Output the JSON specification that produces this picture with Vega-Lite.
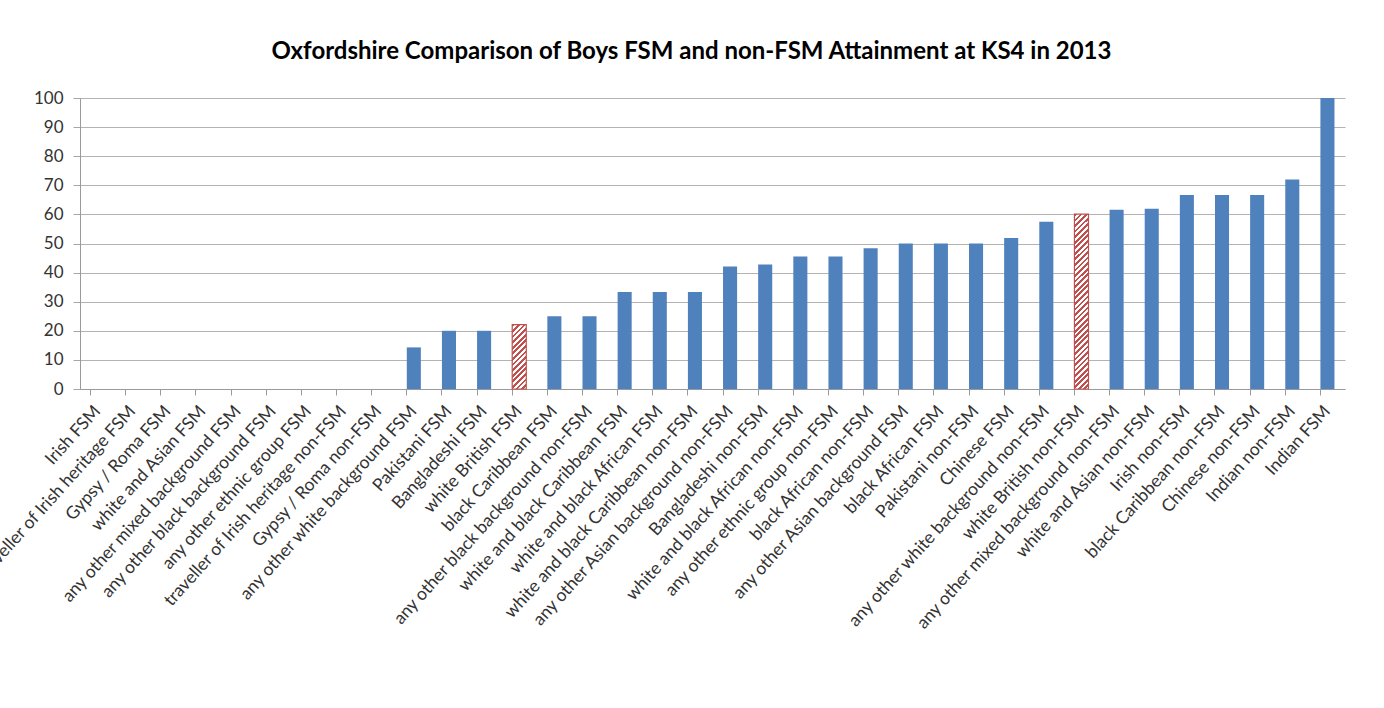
{
  "$schema": "https://vega.github.io/schema/vega-lite/v6.json",
  "autosize": {"type": "none"},
  "width": 1265,
  "height": 291,
  "padding": {"left": 80, "top": 98, "right": 39, "bottom": 319},
  "background": "#ffffff",
  "title": {
    "text": "Oxfordshire Comparison of Boys FSM and non-FSM Attainment at KS4 in 2013",
    "font": "Lato",
    "fontSize": 24,
    "fontWeight": "bold",
    "color": "#000000",
    "anchor": "middle",
    "dx": -21,
    "offset": 25
  },
  "config": {
    "view": {"stroke": null},
    "axis": {"labelFont": "Lato", "labelColor": "#333333"}
  },
  "data": {
    "values": [
      {"category": "Irish FSM", "value": 0},
      {"category": "traveller of Irish heritage FSM", "value": 0},
      {"category": "Gypsy / Roma FSM", "value": 0},
      {"category": "white and Asian FSM", "value": 0},
      {"category": "any other mixed background FSM", "value": 0},
      {"category": "any other black background FSM", "value": 0},
      {"category": "any other ethnic group FSM", "value": 0},
      {"category": "traveller of Irish heritage non-FSM", "value": 0},
      {"category": "Gypsy / Roma non-FSM", "value": 0},
      {"category": "any other white background FSM", "value": 14.3},
      {"category": "Pakistani FSM", "value": 20},
      {"category": "Bangladeshi FSM", "value": 20},
      {"category": "white British FSM", "value": 22.1},
      {"category": "black Caribbean FSM", "value": 25},
      {"category": "any other black background non-FSM", "value": 25},
      {"category": "white and black Caribbean FSM", "value": 33.3},
      {"category": "white and black African FSM", "value": 33.3},
      {"category": "white and black Caribbean non-FSM", "value": 33.3},
      {"category": "any other Asian background non-FSM", "value": 42.1},
      {"category": "Bangladeshi non-FSM", "value": 42.8},
      {"category": "white and black African non-FSM", "value": 45.5},
      {"category": "any other ethnic group non-FSM", "value": 45.5},
      {"category": "black African non-FSM", "value": 48.4},
      {"category": "any other Asian background FSM", "value": 50},
      {"category": "black African FSM", "value": 50},
      {"category": "Pakistani non-FSM", "value": 50},
      {"category": "Chinese FSM", "value": 51.9},
      {"category": "any other white background non-FSM", "value": 57.5},
      {"category": "white British non-FSM", "value": 60.1},
      {"category": "any other mixed background non-FSM", "value": 61.6},
      {"category": "white and Asian non-FSM", "value": 61.9},
      {"category": "Irish non-FSM", "value": 66.7},
      {"category": "black Caribbean non-FSM", "value": 66.7},
      {"category": "Chinese non-FSM", "value": 66.7},
      {"category": "Indian non-FSM", "value": 72},
      {"category": "Indian FSM", "value": 100}
    ]
  },
  "mark": {"type": "bar", "strokeWidth": 1.2},
  "encoding": {
    "x": {
      "field": "category",
      "type": "nominal",
      "sort": null,
      "scale": {"paddingInner": 0.6, "paddingOuter": 0.3},
      "axis": {
        "title": null,
        "labelAngle": -48,
        "labelAlign": "right",
        "labelBaseline": "middle",
        "labelFontSize": 17.5,
        "labelPadding": 13,
        "labelLimit": 0,
        "bandPosition": 0,
        "tickSize": 6,
        "tickColor": "#9a9a9a",
        "domainColor": "#9a9a9a",
        "grid": false
      }
    },
    "y": {
      "field": "value",
      "type": "quantitative",
      "scale": {"domain": [0, 100], "nice": false},
      "axis": {
        "title": null,
        "values": [0, 10, 20, 30, 40, 50, 60, 70, 80, 90, 100],
        "labelFontSize": 17,
        "tickSize": 7,
        "labelPadding": 10,
        "tickColor": "#a6a6a6",
        "domainColor": "#9a9a9a",
        "gridColor": "#b3b3b3",
        "gridOpacity": 1
      }
    },
    "fill": {
      "condition": [
        {
          "test": "datum.category === 'white British FSM'",
          "value": {
            "gradient": "linear", "x1": 0, "y1": 0, "x2": 0.2531, "y2": 1.1626,
            "stops": [
              {"offset": 0, "color": "#C0504D"}, {"offset": 0.0357, "color": "#C0504D"}, {"offset": 0.0357, "color": "#FFFFFF"}, {"offset": 0.0714, "color": "#FFFFFF"},
              {"offset": 0.0714, "color": "#C0504D"}, {"offset": 0.1071, "color": "#C0504D"}, {"offset": 0.1071, "color": "#FFFFFF"}, {"offset": 0.1429, "color": "#FFFFFF"},
              {"offset": 0.1429, "color": "#C0504D"}, {"offset": 0.1786, "color": "#C0504D"}, {"offset": 0.1786, "color": "#FFFFFF"}, {"offset": 0.2143, "color": "#FFFFFF"},
              {"offset": 0.2143, "color": "#C0504D"}, {"offset": 0.25, "color": "#C0504D"}, {"offset": 0.25, "color": "#FFFFFF"}, {"offset": 0.2857, "color": "#FFFFFF"},
              {"offset": 0.2857, "color": "#C0504D"}, {"offset": 0.3214, "color": "#C0504D"}, {"offset": 0.3214, "color": "#FFFFFF"}, {"offset": 0.3571, "color": "#FFFFFF"},
              {"offset": 0.3571, "color": "#C0504D"}, {"offset": 0.3929, "color": "#C0504D"}, {"offset": 0.3929, "color": "#FFFFFF"}, {"offset": 0.4286, "color": "#FFFFFF"},
              {"offset": 0.4286, "color": "#C0504D"}, {"offset": 0.4643, "color": "#C0504D"}, {"offset": 0.4643, "color": "#FFFFFF"}, {"offset": 0.5, "color": "#FFFFFF"},
              {"offset": 0.5, "color": "#C0504D"}, {"offset": 0.5357, "color": "#C0504D"}, {"offset": 0.5357, "color": "#FFFFFF"}, {"offset": 0.5714, "color": "#FFFFFF"},
              {"offset": 0.5714, "color": "#C0504D"}, {"offset": 0.6071, "color": "#C0504D"}, {"offset": 0.6071, "color": "#FFFFFF"}, {"offset": 0.6429, "color": "#FFFFFF"},
              {"offset": 0.6429, "color": "#C0504D"}, {"offset": 0.6786, "color": "#C0504D"}, {"offset": 0.6786, "color": "#FFFFFF"}, {"offset": 0.7143, "color": "#FFFFFF"},
              {"offset": 0.7143, "color": "#C0504D"}, {"offset": 0.75, "color": "#C0504D"}, {"offset": 0.75, "color": "#FFFFFF"}, {"offset": 0.7857, "color": "#FFFFFF"},
              {"offset": 0.7857, "color": "#C0504D"}, {"offset": 0.8214, "color": "#C0504D"}, {"offset": 0.8214, "color": "#FFFFFF"}, {"offset": 0.8571, "color": "#FFFFFF"},
              {"offset": 0.8571, "color": "#C0504D"}, {"offset": 0.8929, "color": "#C0504D"}, {"offset": 0.8929, "color": "#FFFFFF"}, {"offset": 0.9286, "color": "#FFFFFF"},
              {"offset": 0.9286, "color": "#C0504D"}, {"offset": 0.9643, "color": "#C0504D"}, {"offset": 0.9643, "color": "#FFFFFF"}, {"offset": 1, "color": "#FFFFFF"}
            ]
          }
        },
        {
          "test": "datum.category === 'white British non-FSM'",
          "value": {
            "gradient": "linear", "x1": 0, "y1": 0, "x2": 0.0861, "y2": 1.0733,
            "stops": [
              {"offset": 0, "color": "#C0504D"}, {"offset": 0.0147, "color": "#C0504D"}, {"offset": 0.0147, "color": "#FFFFFF"}, {"offset": 0.0294, "color": "#FFFFFF"},
              {"offset": 0.0294, "color": "#C0504D"}, {"offset": 0.0441, "color": "#C0504D"}, {"offset": 0.0441, "color": "#FFFFFF"}, {"offset": 0.0588, "color": "#FFFFFF"},
              {"offset": 0.0588, "color": "#C0504D"}, {"offset": 0.0735, "color": "#C0504D"}, {"offset": 0.0735, "color": "#FFFFFF"}, {"offset": 0.0882, "color": "#FFFFFF"},
              {"offset": 0.0882, "color": "#C0504D"}, {"offset": 0.1029, "color": "#C0504D"}, {"offset": 0.1029, "color": "#FFFFFF"}, {"offset": 0.1176, "color": "#FFFFFF"},
              {"offset": 0.1176, "color": "#C0504D"}, {"offset": 0.1324, "color": "#C0504D"}, {"offset": 0.1324, "color": "#FFFFFF"}, {"offset": 0.1471, "color": "#FFFFFF"},
              {"offset": 0.1471, "color": "#C0504D"}, {"offset": 0.1618, "color": "#C0504D"}, {"offset": 0.1618, "color": "#FFFFFF"}, {"offset": 0.1765, "color": "#FFFFFF"},
              {"offset": 0.1765, "color": "#C0504D"}, {"offset": 0.1912, "color": "#C0504D"}, {"offset": 0.1912, "color": "#FFFFFF"}, {"offset": 0.2059, "color": "#FFFFFF"},
              {"offset": 0.2059, "color": "#C0504D"}, {"offset": 0.2206, "color": "#C0504D"}, {"offset": 0.2206, "color": "#FFFFFF"}, {"offset": 0.2353, "color": "#FFFFFF"},
              {"offset": 0.2353, "color": "#C0504D"}, {"offset": 0.25, "color": "#C0504D"}, {"offset": 0.25, "color": "#FFFFFF"}, {"offset": 0.2647, "color": "#FFFFFF"},
              {"offset": 0.2647, "color": "#C0504D"}, {"offset": 0.2794, "color": "#C0504D"}, {"offset": 0.2794, "color": "#FFFFFF"}, {"offset": 0.2941, "color": "#FFFFFF"},
              {"offset": 0.2941, "color": "#C0504D"}, {"offset": 0.3088, "color": "#C0504D"}, {"offset": 0.3088, "color": "#FFFFFF"}, {"offset": 0.3235, "color": "#FFFFFF"},
              {"offset": 0.3235, "color": "#C0504D"}, {"offset": 0.3382, "color": "#C0504D"}, {"offset": 0.3382, "color": "#FFFFFF"}, {"offset": 0.3529, "color": "#FFFFFF"},
              {"offset": 0.3529, "color": "#C0504D"}, {"offset": 0.3676, "color": "#C0504D"}, {"offset": 0.3676, "color": "#FFFFFF"}, {"offset": 0.3824, "color": "#FFFFFF"},
              {"offset": 0.3824, "color": "#C0504D"}, {"offset": 0.3971, "color": "#C0504D"}, {"offset": 0.3971, "color": "#FFFFFF"}, {"offset": 0.4118, "color": "#FFFFFF"},
              {"offset": 0.4118, "color": "#C0504D"}, {"offset": 0.4265, "color": "#C0504D"}, {"offset": 0.4265, "color": "#FFFFFF"}, {"offset": 0.4412, "color": "#FFFFFF"},
              {"offset": 0.4412, "color": "#C0504D"}, {"offset": 0.4559, "color": "#C0504D"}, {"offset": 0.4559, "color": "#FFFFFF"}, {"offset": 0.4706, "color": "#FFFFFF"},
              {"offset": 0.4706, "color": "#C0504D"}, {"offset": 0.4853, "color": "#C0504D"}, {"offset": 0.4853, "color": "#FFFFFF"}, {"offset": 0.5, "color": "#FFFFFF"},
              {"offset": 0.5, "color": "#C0504D"}, {"offset": 0.5147, "color": "#C0504D"}, {"offset": 0.5147, "color": "#FFFFFF"}, {"offset": 0.5294, "color": "#FFFFFF"},
              {"offset": 0.5294, "color": "#C0504D"}, {"offset": 0.5441, "color": "#C0504D"}, {"offset": 0.5441, "color": "#FFFFFF"}, {"offset": 0.5588, "color": "#FFFFFF"},
              {"offset": 0.5588, "color": "#C0504D"}, {"offset": 0.5735, "color": "#C0504D"}, {"offset": 0.5735, "color": "#FFFFFF"}, {"offset": 0.5882, "color": "#FFFFFF"},
              {"offset": 0.5882, "color": "#C0504D"}, {"offset": 0.6029, "color": "#C0504D"}, {"offset": 0.6029, "color": "#FFFFFF"}, {"offset": 0.6176, "color": "#FFFFFF"},
              {"offset": 0.6176, "color": "#C0504D"}, {"offset": 0.6324, "color": "#C0504D"}, {"offset": 0.6324, "color": "#FFFFFF"}, {"offset": 0.6471, "color": "#FFFFFF"},
              {"offset": 0.6471, "color": "#C0504D"}, {"offset": 0.6618, "color": "#C0504D"}, {"offset": 0.6618, "color": "#FFFFFF"}, {"offset": 0.6765, "color": "#FFFFFF"},
              {"offset": 0.6765, "color": "#C0504D"}, {"offset": 0.6912, "color": "#C0504D"}, {"offset": 0.6912, "color": "#FFFFFF"}, {"offset": 0.7059, "color": "#FFFFFF"},
              {"offset": 0.7059, "color": "#C0504D"}, {"offset": 0.7206, "color": "#C0504D"}, {"offset": 0.7206, "color": "#FFFFFF"}, {"offset": 0.7353, "color": "#FFFFFF"},
              {"offset": 0.7353, "color": "#C0504D"}, {"offset": 0.75, "color": "#C0504D"}, {"offset": 0.75, "color": "#FFFFFF"}, {"offset": 0.7647, "color": "#FFFFFF"},
              {"offset": 0.7647, "color": "#C0504D"}, {"offset": 0.7794, "color": "#C0504D"}, {"offset": 0.7794, "color": "#FFFFFF"}, {"offset": 0.7941, "color": "#FFFFFF"},
              {"offset": 0.7941, "color": "#C0504D"}, {"offset": 0.8088, "color": "#C0504D"}, {"offset": 0.8088, "color": "#FFFFFF"}, {"offset": 0.8235, "color": "#FFFFFF"},
              {"offset": 0.8235, "color": "#C0504D"}, {"offset": 0.8382, "color": "#C0504D"}, {"offset": 0.8382, "color": "#FFFFFF"}, {"offset": 0.8529, "color": "#FFFFFF"},
              {"offset": 0.8529, "color": "#C0504D"}, {"offset": 0.8676, "color": "#C0504D"}, {"offset": 0.8676, "color": "#FFFFFF"}, {"offset": 0.8824, "color": "#FFFFFF"},
              {"offset": 0.8824, "color": "#C0504D"}, {"offset": 0.8971, "color": "#C0504D"}, {"offset": 0.8971, "color": "#FFFFFF"}, {"offset": 0.9118, "color": "#FFFFFF"},
              {"offset": 0.9118, "color": "#C0504D"}, {"offset": 0.9265, "color": "#C0504D"}, {"offset": 0.9265, "color": "#FFFFFF"}, {"offset": 0.9412, "color": "#FFFFFF"},
              {"offset": 0.9412, "color": "#C0504D"}, {"offset": 0.9559, "color": "#C0504D"}, {"offset": 0.9559, "color": "#FFFFFF"}, {"offset": 0.9706, "color": "#FFFFFF"},
              {"offset": 0.9706, "color": "#C0504D"}, {"offset": 0.9853, "color": "#C0504D"}, {"offset": 0.9853, "color": "#FFFFFF"}, {"offset": 1, "color": "#FFFFFF"}
            ]
          }
        }
      ],
      "value": "#4F81BD"
    },
    "stroke": {
      "condition": {
        "test": "datum.category === 'white British FSM' || datum.category === 'white British non-FSM'",
        "value": "#C0504D"
      },
      "value": null
    }
  }
}
